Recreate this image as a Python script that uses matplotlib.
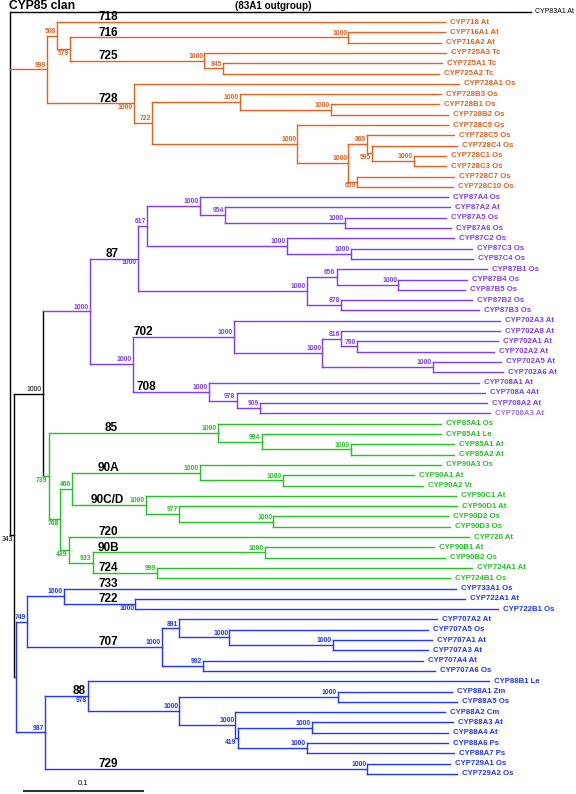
import matplotlib.pyplot as plt

plt.rcParams['font.family'] = ['Liberation Sans', 'DejaVu Sans']

# ======
# tree data (depths = distance from root, substitutions/site)
# ======
leaf_names = [
    "CYP718 At", "CYP716A1 At", "CYP716A2 At", "CYP725A3 Tc", "CYP725A1 Tc", "CYP725A2 Tc",
    "CYP728A1 Os", "CYP728B3 Os", "CYP728B1 Os", "CYP728B2 Os", "CYP728C9 Os", "CYP728C5 Os",
    "CYP728C4 Os", "CYP728C1 Os", "CYP728C3 Os", "CYP728C7 Os", "CYP728C10 Os",
    "CYP87A4 Os", "CYP87A2 At", "CYP87A5 Os", "CYP87A6 Os", "CYP87C2 Os", "CYP87C3 Os",
    "CYP87C4 Os", "CYP87B1 Os", "CYP87B4 Os", "CYP87B5 Os", "CYP87B2 Os", "CYP87B3 Os",
    "CYP702A3 At", "CYP702A8 At", "CYP702A1 At", "CYP702A2 At", "CYP702A5 At", "CYP702A6 At",
    "CYP708A1 At", "CYP708A 4At", "CYP708A2 At", "CYP708A3 At",
    "CYP85A1 Os", "CYP85A1 Le", "CYP85A1 At", "CYP85A2 At", "CYP90A3 Os", "CYP90A1 At",
    "CYP90A2 Vr", "CYP90C1 At", "CYP90D1 At", "CYP90D2 Os", "CYP90D3 Os", "CYP720 At",
    "CYP90B1 At", "CYP90B2 Os", "CYP724A1 At", "CYP724B1 Os",
    "CYP733A1 Os", "CYP722A1 At", "CYP722B1 Os", "CYP707A2 At", "CYP707A5 Os", "CYP707A1 At",
    "CYP707A3 At", "CYP707A4 At", "CYP707A6 Os", "CYP88B1 Le", "CYP88A1 Zm", "CYP88A5 Os",
    "CYP88A2 Cm", "CYP88A3 At", "CYP88A4 At", "CYP88A6 Ps", "CYP88A7 Ps", "CYP729A1 Os",
    "CYP729A2 Os",
]
leaf_depth = [
    0.365, 0.365, 0.362, 0.366, 0.363, 0.360, 0.377, 0.362, 0.360, 0.368, 0.368, 0.373,
    0.375, 0.366, 0.366, 0.373, 0.372,
    0.368, 0.369, 0.366, 0.370, 0.373, 0.388, 0.389, 0.400, 0.384, 0.382, 0.388, 0.394,
    0.411, 0.411, 0.410, 0.406, 0.412, 0.414, 0.394, 0.399, 0.400, 0.403,
    0.362, 0.362, 0.373, 0.373, 0.362, 0.339, 0.347, 0.374, 0.375, 0.368, 0.369, 0.385,
    0.356, 0.365, 0.388, 0.369,
    0.374, 0.382, 0.410, 0.358, 0.351, 0.354, 0.351, 0.347, 0.357, 0.402, 0.371, 0.375,
    0.365, 0.372, 0.368, 0.368, 0.373, 0.369, 0.375,
]
outgroup_name = "CYP83A1 At"
outgroup_depth = 0.437

# internal nodes: (key, depth, bootstrap, children) ; int child = leaf index
black_nodes = [
    ("root", 0.000, "", ["out", "O1", "N343"]),
    ("N343", 0.003, "343", ["B1", "Bl0"]),
    ("B1", 0.027, "1000", ["P1", "G1"]),
]
orange_nodes = [
    ("O1", 0.031, "999", ["O2", "O7"]),
    ("O2", 0.039, "508", [0, "O3"]),
    ("O3", 0.050, "579", ["O4", "O5"]),
    ("O4", 0.284, "1000", [1, 2]),
    ("O5", 0.163, "1000", [3, "O6"]),
    ("O6", 0.179, "845", [4, 5]),
    ("O7", 0.104, "1000", [6, "O8"]),
    ("O8", 0.119, "722", ["O9", "O10"]),
    ("O9", 0.193, "1000", [7, "O11"]),
    ("O11", 0.269, "1000", [8, 9]),
    ("O10", 0.241, "1000", [10, "O12"]),
    ("O12", 0.284, "1000", ["O13", "O14"]),
    ("O13", 0.300, "865", [11, "O15"]),
    ("O15", 0.304, "595", [12, "O16"]),
    ("O16", 0.339, "1000", [13, 14]),
    ("O14", 0.291, "659", [15, 16]),
]
purple_nodes = [
    ("P1", 0.067, "1000", ["P2", "P13"]),
    ("P2", 0.107, "1000", ["P3", "P4"]),
    ("P3", 0.115, "617", ["P5", "P6"]),
    ("P5", 0.159, "1000", [17, "P7"]),
    ("P7", 0.180, "954", [18, "P8"]),
    ("P8", 0.281, "1000", [19, 20]),
    ("P6", 0.232, "1000", [21, "P9"]),
    ("P9", 0.286, "1000", [22, 23]),
    ("P4", 0.249, "1000", ["P10", "P11"]),
    ("P10", 0.274, "656", [24, "P12"]),
    ("P12", 0.326, "1000", [25, 26]),
    ("P11", 0.278, "878", [27, 28]),
    ("P13", 0.103, "1000", ["P14", "P15"]),
    ("P14", 0.188, "1000", [29, "P16"]),
    ("P16", 0.262, "1000", ["P17", "P18"]),
    ("P17", 0.278, "816", [30, "P19"]),
    ("P19", 0.291, "790", [31, 32]),
    ("P18", 0.355, "1000", [33, 34]),
    ("P15", 0.167, "1000", [35, "P20"]),
    ("P20", 0.190, "978", [36, "P21"]),
    ("P21", 0.210, "909", [37, 38]),
]
green_nodes = [
    ("G1", 0.032, "739", ["G2", "G3"]),
    ("G2", 0.174, "1000", [39, "G4"]),
    ("G4", 0.211, "994", [40, "G5"]),
    ("G5", 0.286, "1000", [41, 42]),
    ("G3", 0.042, "768", ["G6", "G7"]),
    ("G6", 0.052, "466", ["G8", "G9"]),
    ("G8", 0.159, "1000", [43, "G10"]),
    ("G10", 0.229, "1000", [44, 45]),
    ("G9", 0.114, "1000", [46, "G11"]),
    ("G11", 0.142, "977", [47, "G12"]),
    ("G12", 0.221, "1000", [48, 49]),
    ("G7", 0.049, "439", [50, "G13"]),
    ("G13", 0.069, "933", ["G14", "G15"]),
    ("G14", 0.214, "1000", [51, 52]),
    ("G15", 0.123, "999", [53, 54]),
]
blue_nodes = [
    ("Bl0", 0.005, "", ["Bl1", "Bl2"]),
    ("Bl1", 0.014, "749", ["Bl3", "Bl4"]),
    ("Bl3", 0.045, "1000", [55, "Bl5"]),
    ("Bl5", 0.105, "1000", [56, 57]),
    ("Bl4", 0.127, "1000", ["Bl6", "Bl7"]),
    ("Bl6", 0.142, "891", [58, "Bl8"]),
    ("Bl8", 0.184, "1000", [59, "Bl9"]),
    ("Bl9", 0.271, "1000", [60, 61]),
    ("Bl7", 0.162, "992", [62, 63]),
    ("Bl2", 0.029, "987", ["Bl10", "Bl11"]),
    ("Bl10", 0.065, "978", [64, "Bl12"]),
    ("Bl12", 0.142, "1000", ["Bl13", "Bl14"]),
    ("Bl13", 0.275, "1000", [65, 66]),
    ("Bl14", 0.189, "1000", [67, "Bl15"]),
    ("Bl15", 0.191, "419", ["Bl16", "Bl17"]),
    ("Bl16", 0.253, "1000", [68, 69]),
    ("Bl17", 0.249, "1000", [70, 71]),
    ("Bl11", 0.300, "1000", [72, 73]),
]

# family labels: (text, node or leaf it sits on, x)
clade_labels = [
    ("718", 0, 0.082), ("716", "O4", 0.082), ("725", "O5", 0.082), ("728", "O7", 0.082),
    ("87", "P2", 0.085), ("702", "P14", 0.112), ("708", "P15", 0.114),
    ("85", "G2", 0.085), ("90A", "G8", 0.082), ("90C/D", "G9", 0.081), ("720", 50, 0.082),
    ("90B", "G14", 0.082), ("724", "G15", 0.082), ("733", 55, 0.082), ("722", "Bl5", 0.082),
    ("707", "Bl4", 0.082), ("88", "Bl10", 0.058), ("729", "Bl11", 0.082),
]

# ======
# style
# ======
colors = {"k": "black", "o": "#E2621F", "p": "#7F3CFF", "g": "#22C322", "b": "#2236FF"}
below = {"O3", "O7", "O15", "O14", "P2", "G1", "G3", "G7", "Bl5", "Bl10", "Bl15", "N343"}

nodes = {}
for cl, group in [("k", black_nodes), ("o", orange_nodes), ("p", purple_nodes),
                  ("g", green_nodes), ("b", blue_nodes)]:
    for key, d, sup, ch in group:
        nodes[key] = (d, sup, ch, cl)


def y_of(c):
    if c == "out":
        return -1
    if isinstance(c, int):
        return c
    ch = nodes[c][2]
    return (y_of(ch[0]) + y_of(ch[-1])) / 2


def depth_of(c):
    if c == "out":
        return outgroup_depth
    if isinstance(c, int):
        return leaf_depth[c]
    return nodes[c][0]


fig = plt.figure(figsize=(5.76, 7.94), dpi=100)
ax = fig.add_axes([0, 0, 1, 1])
ax.set_xlim(-0.0088, 0.4752)
ax.set_ylim(74.95, -2.136)
ax.axis('off')

lw = 1.0
for key, (d, sup, ch, cl) in nodes.items():
    col = colors[cl]
    ys = [y_of(c) for c in ch]
    ax.plot([d, d], [min(ys), max(ys)], color=col, lw=lw, solid_capstyle='projecting')
    for c, yc in zip(ch, ys):
        ccol = colors[nodes[c][3]] if (isinstance(c, str) and c in nodes) else col
        ax.plot([d, depth_of(c)], [yc, yc], color=ccol, lw=lw, solid_capstyle='projecting')
        if isinstance(c, int):
            tcol = "#A070FF" if leaf_names[c] == "CYP708A3 At" else col
            ax.annotate(leaf_names[c], (depth_of(c), yc), xytext=(3.6, 0),
                        textcoords='offset points', ha='left', va='center',
                        fontsize=5.6, fontweight='bold', color=tcol)
    if sup:
        yn = y_of(key)
        if key in below:
            off, va = -0.6, 'top'
        else:
            off, va = 0.6, 'bottom'
        ax.annotate(sup, (d, yn), xytext=(-0.8, off), textcoords='offset points',
                    ha='right', va=va, fontsize=4.9, color=col,
                    fontweight='normal' if cl == 'k' else 'bold')

ax.annotate(outgroup_name, (outgroup_depth, -1), xytext=(3.4, 0), textcoords='offset points',
            ha='left', va='center', fontsize=5.0, color='black')

for txt, target, x in clade_labels:
    ax.annotate(txt, (x, y_of(target)), xytext=(0, 1.2), textcoords='offset points',
                ha='center', va='baseline', fontsize=8.5, fontweight='bold', color='black')

# title and scale bar
ax.text(0.016, 0.989, "CYP85 clan", transform=fig.transFigure, ha='left', va='baseline',
        fontsize=8.7, fontweight='bold')
ax.text(0.475, 0.989, "(83A1 outgroup)", transform=fig.transFigure, ha='center', va='baseline',
        fontsize=7.1, fontweight='bold')

ax.plot([0.011, 0.111], [74.63, 74.63], color='#333333', lw=1.5)
ax.annotate("0.1", (0.061, 74.63), xytext=(0, 2.5), textcoords='offset points',
            ha='center', va='bottom', fontsize=5.5)

fig.savefig("out.png", dpi=100)
